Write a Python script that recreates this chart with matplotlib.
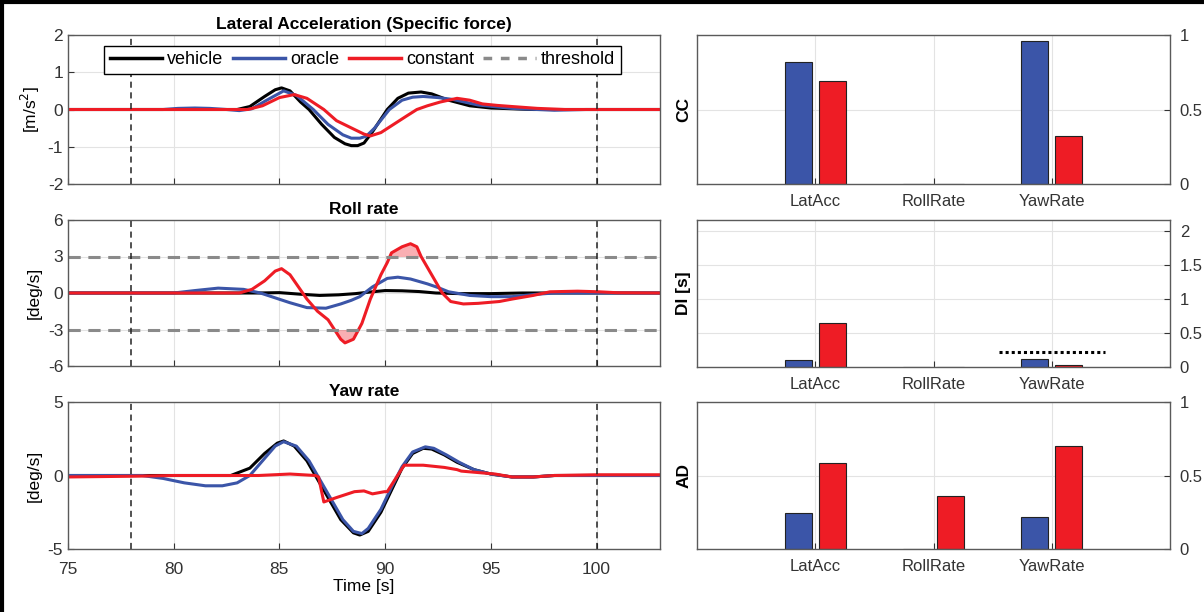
import numpy as np
import matplotlib
matplotlib.use("Agg")
import matplotlib.pyplot as plt
from matplotlib.lines import Line2D

# ---- time series (time [s], value) ----
latacc_vehicle_t = [75, 83.0, 83.6, 84.3, 84.8, 85.1, 85.5, 86.0, 86.4, 87.0, 87.6, 88.1, 88.4, 88.7, 89.0, 89.4, 90.1, 90.6, 91.1, 91.7, 92.2, 93.0, 94.0, 95.0, 96.0, 97.0, 103]
latacc_vehicle_v = [0, 0, 0.08, 0.35, 0.53, 0.58, 0.5, 0.2, 0.0, -0.4, -0.75, -0.92, -0.97, -0.97, -0.9, -0.6, 0.0, 0.3, 0.44, 0.47, 0.42, 0.25, 0.1, 0.04, 0.02, 0.0, 0.0]
latacc_oracle_t = [75, 79.5, 80.2, 81.0, 81.7, 82.5, 83.1, 83.7, 84.4, 85.2, 85.8, 86.6, 87.3, 88.0, 88.4, 88.8, 89.1, 89.5, 90.2, 90.8, 91.3, 91.8, 92.5, 93.2, 94.4, 96.0, 98.0, 99.5, 103]
latacc_oracle_v = [0, 0, 0.03, 0.04, 0.03, 0.0, -0.03, 0.02, 0.25, 0.5, 0.38, 0.0, -0.4, -0.68, -0.77, -0.77, -0.72, -0.5, 0.0, 0.25, 0.33, 0.35, 0.32, 0.27, 0.12, 0.03, -0.02, 0.0, 0.0]
latacc_constant_t = [75, 83.5, 84.2, 85.0, 85.7, 86.3, 87.1, 87.7, 88.6, 89.0, 89.3, 89.8, 90.4, 91.0, 91.5, 92.0, 92.6, 93.4, 94.0, 94.6, 95.3, 96.0, 97.2, 98.5, 103]
latacc_constant_v = [0, 0, 0.1, 0.32, 0.4, 0.3, 0.0, -0.3, -0.55, -0.66, -0.71, -0.62, -0.4, -0.18, 0.0, 0.1, 0.2, 0.3, 0.25, 0.15, 0.11, 0.08, 0.03, 0.0, 0.0]

roll_vehicle_t = [75, 84.0, 85.0, 86.0, 86.9, 87.8, 88.6, 89.4, 90.0, 90.8, 91.6, 92.4, 93.5, 95.0, 96.5, 103]
roll_vehicle_v = [0, 0, 0.03, -0.1, -0.2, -0.15, -0.05, 0.1, 0.2, 0.18, 0.12, 0.0, -0.05, -0.05, 0.0, 0.0]
roll_oracle_t = [75, 80.0, 81.0, 82.1, 83.3, 84.1, 84.8, 85.5, 86.3, 87.2, 87.9, 88.4, 88.8, 89.4, 90.1, 90.6, 91.2, 91.8, 92.0, 92.5, 93.0, 94.0, 95.0, 96.0, 97.2, 98.0, 103]
roll_oracle_v = [0, 0, 0.2, 0.4, 0.3, 0.0, -0.4, -0.8, -1.2, -1.25, -0.9, -0.6, -0.3, 0.5, 1.2, 1.3, 1.15, 0.85, 0.75, 0.45, 0.1, -0.2, -0.3, -0.3, -0.1, 0.0, 0.0]
roll_constant_t = [75, 83.1, 83.7, 84.3, 84.8, 85.1, 85.5, 85.9, 86.3, 86.8, 87.3, 87.6, 87.9, 88.1, 88.5, 88.9, 89.3, 89.8, 90.1, 90.3, 90.8, 91.2, 91.5, 91.7, 92.2, 92.7, 93.1, 93.7, 94.4, 95.4, 96.0, 97.0, 97.8, 99.1, 100.1, 101.0, 103]
roll_constant_v = [0, 0, 0.3, 1.0, 1.8, 2.0, 1.5, 0.5, -0.5, -1.5, -2.2, -3.0, -3.8, -4.1, -3.8, -2.5, -0.5, 1.5, 2.5, 3.3, 3.8, 4.05, 3.8, 3.0, 1.5, 0.0, -0.7, -0.9, -0.85, -0.7, -0.5, -0.2, 0.1, 0.15, 0.1, 0.02, 0.0]

yaw_vehicle_t = [75, 82.7, 83.6, 84.3, 84.9, 85.2, 85.7, 86.3, 86.7, 87.3, 87.9, 88.5, 88.8, 89.2, 89.8, 90.3, 90.8, 91.3, 91.8, 92.2, 92.8, 93.4, 94.2, 95.0, 96.0, 97.0, 98.0, 103]
yaw_vehicle_v = [0, 0, 0.5, 1.5, 2.2, 2.35, 2.0, 1.0, 0.0, -1.5, -3.0, -3.9, -4.05, -3.8, -2.5, -1.0, 0.5, 1.5, 1.85, 1.8, 1.4, 0.9, 0.4, 0.1, -0.1, -0.1, 0.0, 0.0]
yaw_oracle_t = [75, 78.5, 79.5, 80.5, 81.5, 82.3, 83.0, 83.6, 84.2, 84.8, 85.2, 85.8, 86.4, 86.8, 87.4, 88.0, 88.5, 88.9, 89.2, 89.8, 90.3, 90.8, 91.3, 91.9, 92.3, 92.9, 93.5, 94.2, 95.0, 96.0, 97.0, 98.0, 103]
yaw_oracle_v = [0, 0, -0.2, -0.5, -0.7, -0.7, -0.5, 0.0, 1.0, 2.0, 2.3, 2.0, 1.0, 0.0, -1.5, -3.0, -3.8, -3.95, -3.6, -2.3, -0.8, 0.6, 1.6, 1.95, 1.85, 1.4, 0.9, 0.4, 0.1, -0.1, -0.1, 0.0, 0.0]
yaw_constant_t = [75, 78.0, 80.0, 84.0, 85.5, 86.7, 86.85, 87.1, 87.7, 88.55, 89.0, 89.4, 89.97, 90.1, 90.9, 91.8, 92.8, 93.4, 93.6, 94.4, 95.2, 96.0, 97.0, 98.0, 100.0, 103]
yaw_constant_v = [-0.1, -0.05, 0.0, 0.0, 0.1, 0.0, -0.1, -1.8, -1.5, -1.1, -1.05, -1.25, -1.1, -1.1, 0.7, 0.7, 0.55, 0.4, 0.3, 0.2, 0.1, -0.1, -0.1, 0.0, 0.05, 0.05]

# ---- metrics (bar charts) ----
categories = ["LatAcc", "RollRate", "YawRate"]
cc_oracle = [0.82, 0.0, 0.963]
cc_constant = [0.69, 0.0, 0.325]
di_oracle = [0.105, 0.0, 0.117]
di_constant = [0.65, 0.0, 0.023]
di_limit = 0.215
ad_oracle = [0.243, 0.0, 0.221]
ad_constant = [0.584, 0.363, 0.699]

roll_threshold = 3.0
window = [78, 100]

BLUE = "#3b55a8"
RED = "#ee1c25"
GRAY = "#8a8a8a"
SPINE = "#5a5a5a"

plt.rcParams["font.family"] = ["Liberation Sans", "DejaVu Sans"]
plt.rcParams["axes.unicode_minus"] = False

W, H = 1204.0, 612.0
fig = plt.figure(figsize=(W / 100, H / 100), dpi=100)


def box(l, t, r, b):
    return [l / W, 1 - b / H, (r - l) / W, (b - t) / H]


def style(ax):
    for s in ax.spines.values():
        s.set_color(SPINE)
        s.set_linewidth(1.0)
    ax.tick_params(direction="in", colors="#333333", length=4, width=0.8)
    ax.grid(True, color="#e3e3e3", linewidth=0.8)
    ax.set_axisbelow(True)


left_boxes = [(68, 35, 660, 184), (68, 220, 660, 366), (68, 402, 660, 549)]
right_boxes = [(697, 35, 1170, 184), (697, 220, 1170, 367), (697, 402, 1170, 549)]

series = [
    (latacc_vehicle_t, latacc_vehicle_v, latacc_oracle_t, latacc_oracle_v, latacc_constant_t, latacc_constant_v),
    (roll_vehicle_t, roll_vehicle_v, roll_oracle_t, roll_oracle_v, roll_constant_t, roll_constant_v),
    (yaw_vehicle_t, yaw_vehicle_v, yaw_oracle_t, yaw_oracle_v, yaw_constant_t, yaw_constant_v),
]
titles = ["Lateral Acceleration (Specific force)", "Roll rate", "Yaw rate"]
ylabels = ["[m/s$^2$]", "[deg/s]", "[deg/s]"]
ylims = [(-2, 2), (-6, 6), (-5, 5)]
yticks = [[-2, -1, 0, 1, 2], [-6, -3, 0, 3, 6], [-5, 0, 5]]

for i in range(3):
    ax = fig.add_axes(box(*left_boxes[i]))
    style(ax)
    vt, vv, ot, ov, ct, cv = series[i]
    ax.plot(vt, vv, color="black", lw=2.2, label="vehicle")
    ax.plot(ot, ov, color=BLUE, lw=2.2, label="oracle")
    ax.plot(ct, cv, color=RED, lw=2.2, label="constant")
    if i == 1:
        ax.axhline(roll_threshold, color=GRAY, ls=(0, (4, 2.5)), lw=2.2)
        ax.axhline(-roll_threshold, color=GRAY, ls=(0, (4, 2.5)), lw=2.2)
        ct_a = np.array(ct)
        cv_a = np.array(cv)
        ax.fill_between(ct_a, cv_a, roll_threshold, where=cv_a > roll_threshold,
                        interpolate=True, color=RED, alpha=0.35, lw=0)
        ax.fill_between(ct_a, cv_a, -roll_threshold, where=cv_a < -roll_threshold,
                        interpolate=True, color=RED, alpha=0.35, lw=0)
    for w in window:
        ax.axvline(w, color="#222222", ls=(0, (4, 3)), lw=1.1)
    ax.set_xlim(75, 103)
    ax.set_ylim(*ylims[i])
    ax.set_yticks(yticks[i])
    ax.set_xticks([75, 80, 85, 90, 95, 100])
    ax.tick_params(labelsize=12.5)
    ax.tick_params(axis="x", pad=9)
    ax.set_title(titles[i], fontsize=12.5, fontweight="bold", pad=4)
    ax.set_ylabel(ylabels[i], fontsize=12.5, labelpad=4)
    if i < 2:
        ax.tick_params(labelbottom=False)
    else:
        ax.set_xlabel("Time [s]", fontsize=12.5, labelpad=2)
    if i == 0:
        handles = [Line2D([], [], color="black", lw=2.5),
                   Line2D([], [], color=BLUE, lw=2.5),
                   Line2D([], [], color=RED, lw=2.5),
                   Line2D([], [], color=GRAY, lw=2.5, ls=(0, (2.5, 2.5)))]
        ax.legend(handles, ["vehicle", "oracle", "constant", "threshold"],
                  ncol=4, loc="center", bbox_to_anchor=((108 + 617) / 2 / W, 1 - 60 / H),
                  bbox_transform=fig.transFigure, fontsize=13, frameon=True,
                  fancybox=False, edgecolor="black", handlelength=2.9,
                  handletextpad=0.3, columnspacing=0.5, borderpad=0.3,
                  framealpha=1)

bar_sets = [(cc_oracle, cc_constant), (di_oracle, di_constant), (ad_oracle, ad_constant)]
bar_labels = ["CC", "DI [s]", "AD"]
bar_ylims = [(0, 1), (0, 2.16), (0, 1)]
bar_yticks = [[0, 0.5, 1], [0, 0.5, 1, 1.5, 2], [0, 0.5, 1]]
xpos = np.arange(1, len(categories) + 1)
for i in range(3):
    ax = fig.add_axes(box(*right_boxes[i]))
    style(ax)
    o, c = bar_sets[i]
    ax.bar(xpos - 0.143, o, width=0.228, color=BLUE, edgecolor="#222222", lw=0.8)
    ax.bar(xpos + 0.143, c, width=0.228, color=RED, edgecolor="#222222", lw=0.8)
    if i == 1:
        ax.plot([2.55, 3.45], [di_limit, di_limit], color="black", ls=(0, (1, 1)), lw=2.2)
    ax.set_xlim(0, 4)
    ax.set_ylim(*bar_ylims[i])
    ax.set_xticks(xpos)
    ax.set_xticklabels(categories)
    ax.set_yticks(bar_yticks[i])
    ax.set_yticklabels([("%g" % v) for v in bar_yticks[i]])
    ax.yaxis.tick_right()
    ax.tick_params(direction="in", labelsize=12, pad=7)
    ax.set_ylabel(bar_labels[i], fontsize=12.5, fontweight="bold", labelpad=4)

# outer frame of the original screenshot
fig.add_artist(Line2D([0, 1], [1 - 1.5 / H, 1 - 1.5 / H], color="black", lw=3, transform=fig.transFigure))
fig.add_artist(Line2D([1.5 / W, 1.5 / W], [0, 1], color="black", lw=3, transform=fig.transFigure))

fig.savefig("out.png", dpi=100)
